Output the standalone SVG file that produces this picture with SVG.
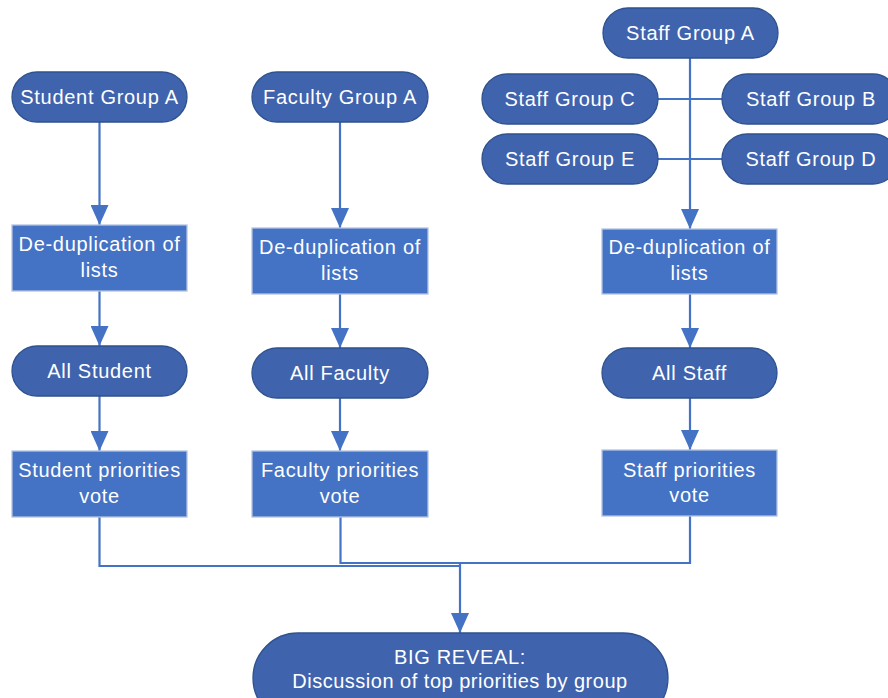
<svg xmlns="http://www.w3.org/2000/svg" width="888" height="698" viewBox="0 0 888 698">
<defs>
<style>
.term{fill:#3F63AD;stroke:#2F528F;stroke-width:1.3}
.proc{fill:#4472C4;stroke:#B4C4E2;stroke-width:1.3}
text{font-family:"Liberation Sans",Arial,sans-serif;font-size:20px;fill:#FFFFFF;text-anchor:middle;letter-spacing:0.7px}
.c{fill:none;stroke:#4472C4;stroke-width:2.2}
</style>
<marker id="ah" markerWidth="20" markerHeight="18" viewBox="0 0 20 18" refX="20" refY="9" orient="auto" markerUnits="userSpaceOnUse">
<path d="M0,0 L20,9 L0,18 Z" fill="#4472C4"/>
</marker>
</defs>
<rect width="888" height="698" fill="#FFFFFF"/>
<g id="connectors">
<line class="c" x1="99.5" y1="122" x2="99.5" y2="225" marker-end="url(#ah)"/>
<line class="c" x1="340" y1="122" x2="340" y2="228" marker-end="url(#ah)"/>
<line class="c" x1="690" y1="58" x2="690" y2="229" marker-end="url(#ah)"/>
<line class="c" x1="658" y1="99" x2="722" y2="99"/>
<line class="c" x1="658" y1="159" x2="722" y2="159"/>
<line class="c" x1="99.5" y1="291" x2="99.5" y2="346" marker-end="url(#ah)"/>
<line class="c" x1="340" y1="294" x2="340" y2="348" marker-end="url(#ah)"/>
<line class="c" x1="690" y1="294" x2="690" y2="348" marker-end="url(#ah)"/>
<line class="c" x1="99.5" y1="396" x2="99.5" y2="451" marker-end="url(#ah)"/>
<line class="c" x1="340" y1="398" x2="340" y2="451" marker-end="url(#ah)"/>
<line class="c" x1="690" y1="398" x2="690" y2="450" marker-end="url(#ah)"/>
<polyline class="c" points="99.5,517 99.5,566 460,566"/>
<polyline class="c" points="340.5,517 340.5,563 690,563 690,516"/>
<line class="c" x1="460" y1="563" x2="460" y2="633" marker-end="url(#ah)"/>
</g>
<g id="student-group-a"><rect class="term" x="12" y="72" width="175" height="50" rx="25"/><text x="99.5" y="104">Student Group A</text></g>
<g id="faculty-group-a"><rect class="term" x="252" y="72" width="176" height="50" rx="25"/><text x="340" y="104">Faculty Group A</text></g>
<g id="staff-group-a"><rect class="term" x="603" y="8" width="175" height="50" rx="25"/><text x="690.5" y="40">Staff Group A</text></g>
<g id="staff-group-c"><rect class="term" x="482" y="74" width="176" height="50" rx="25"/><text x="570" y="106">Staff Group C</text></g>
<g id="staff-group-b"><rect class="term" x="722" y="74" width="176" height="50" rx="25"/><text x="811" y="106">Staff Group B</text></g>
<g id="staff-group-e"><rect class="term" x="482" y="134" width="176" height="50" rx="25"/><text x="570" y="166">Staff Group E</text></g>
<g id="staff-group-d"><rect class="term" x="722" y="134" width="176" height="50" rx="25"/><text x="811" y="166">Staff Group D</text></g>
<g id="student-dedup"><rect class="proc" x="12" y="225" width="175" height="66"/><text x="99.5" y="251">De-duplication of</text><text x="99.5" y="277">lists</text></g>
<g id="faculty-dedup"><rect class="proc" x="252" y="228" width="176" height="66"/><text x="340" y="254">De-duplication of</text><text x="340" y="280">lists</text></g>
<g id="staff-dedup"><rect class="proc" x="602" y="229" width="175" height="65"/><text x="689.5" y="254">De-duplication of</text><text x="689.5" y="280">lists</text></g>
<g id="all-student"><rect class="term" x="12" y="346" width="175" height="50" rx="25"/><text x="99.5" y="378">All Student</text></g>
<g id="all-faculty"><rect class="term" x="252" y="348" width="176" height="50" rx="25"/><text x="340" y="380">All Faculty</text></g>
<g id="all-staff"><rect class="term" x="602" y="348" width="175" height="50" rx="25"/><text x="689.5" y="380">All Staff</text></g>
<g id="student-vote"><rect class="proc" x="12" y="451" width="175" height="66"/><text x="99.5" y="477">Student priorities</text><text x="99.5" y="503">vote</text></g>
<g id="faculty-vote"><rect class="proc" x="252" y="451" width="176" height="66"/><text x="340" y="477">Faculty priorities</text><text x="340" y="503">vote</text></g>
<g id="staff-vote"><rect class="proc" x="602" y="450" width="175" height="66"/><text x="689.5" y="477">Staff priorities</text><text x="689.5" y="502">vote</text></g>
<g id="big-reveal"><rect class="term" x="253" y="633" width="415" height="90" rx="45"/><text x="460" y="664">BIG REVEAL:</text><text x="460" y="688" style="letter-spacing:0.5px">Discussion of top priorities by group</text></g>
</svg>
